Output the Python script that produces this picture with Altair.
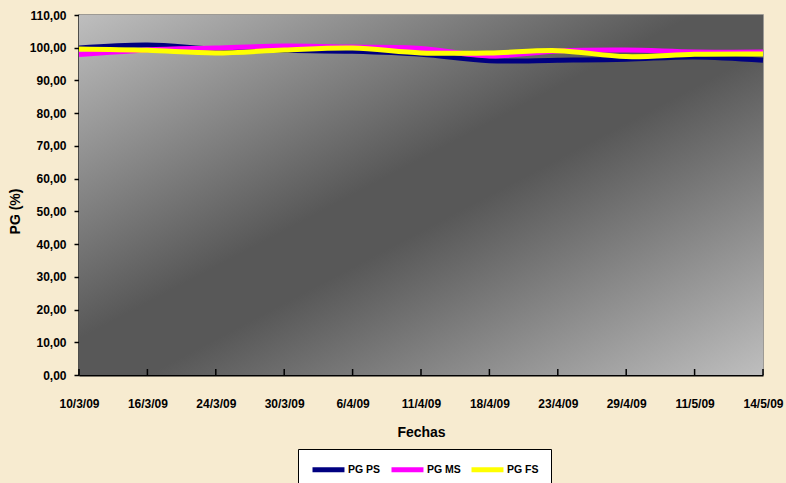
import altair as alt
import pandas as pd

# Sampling dates and germination percentages per treatment
dates = ["10/3/09", "16/3/09", "24/3/09", "30/3/09", "6/4/09", "11/4/09",
         "18/4/09", "23/4/09", "29/4/09", "11/5/09", "14/5/09"]
pg_ps = [99.9, 100.8, 99.6, 99.2, 98.9, 98.0, 96.0, 96.2, 96.5, 97.2, 96.2]
pg_ms = [97.9, 99.3, 99.9, 100.5, 100.2, 99.8, 97.5, 99.0, 99.3, 98.7, 98.7]
pg_fs = [99.6, 99.2, 98.4, 99.3, 99.9, 98.4, 98.4, 99.1, 97.3, 98.0, 98.1]

series_names = ["PG PS", "PG MS", "PG FS"]
series_colors = ["#000080", "#ff00ff", "#ffff00"]

rows = []
for name, vals in zip(series_names, [pg_ps, pg_ms, pg_fs]):
    for d, v in zip(dates, vals):
        rows.append({"Fecha": d, "Serie": name, "PG": v})
df = pd.DataFrame(rows)
ticks_df = pd.DataFrame({"Fecha": dates})

W, H = 684, 360
FONT = "Liberation Sans"

x_enc = alt.X(
    "Fecha:N", sort=dates,
    scale=alt.Scale(type="point", padding=0),
    axis=alt.Axis(
        title="Fechas", labelAngle=0, ticks=False, grid=False,
        labelFont=FONT, labelFontSize=12, labelFontWeight="bold",
        labelColor="black", labelPadding=28, labelBaseline="middle",
        titleFont=FONT, titleFontSize=14, titleFontWeight="bold",
        titleColor="black", titleY=57, titleBaseline="middle",
        domainColor="black", domainWidth=2,
    ),
)

background = alt.Chart(pd.DataFrame({"a": [0]})).mark_rect(
    color=alt.Gradient(
        gradient="linear", x1=0, y1=0, x2=1, y2=1,
        stops=[
            alt.GradientStop(offset=0, color="#bebebe"),
            alt.GradientStop(offset=0.45, color="#585858"),
            alt.GradientStop(offset=0.55, color="#585858"),
            alt.GradientStop(offset=1, color="#bebebe"),
        ],
    )
).encode(x=alt.value(0), x2=alt.value(W), y=alt.value(0), y2=alt.value(H))

lines = alt.Chart(df).mark_line(interpolate="cardinal").encode(
    x=x_enc,
    y=alt.Y(
        "PG:Q",
        scale=alt.Scale(domain=[0, 110]),
        axis=alt.Axis(
            title="PG (%)", values=list(range(0, 111, 10)), grid=False,
            labelExpr="replace(format(datum.value, '.2f'), '.', ',')",
            labelFont=FONT, labelFontSize=12, labelFontWeight="bold",
            labelColor="black", labelPadding=8,
            tickColor="black", tickSize=5, tickWidth=1.5,
            titleFont=FONT, titleFontSize=14, titleFontWeight="bold",
            titleColor="black", titleX=-64, titleY=196, titleAngle=270,
            titleAlign="center", titleBaseline="middle",
            domainColor="black", domainWidth=2,
        ),
    ),
    color=alt.Color(
        "Serie:N", sort=series_names, title=None,
        scale=alt.Scale(domain=series_names, range=series_colors),
        legend=alt.Legend(
            orient="none", legendX=219, legendY=434, direction="horizontal",
            padding=12, strokeColor="black", fillColor="white",
            # long line starting at the symbol's left edge
            symbolType="M-1,0H4.33", symbolSize=144, symbolStrokeWidth=4,
            labelFont=FONT, labelFontSize=10.5, labelFontWeight="bold",
            labelColor="black", labelOffset=21, columnPadding=0,
        ),
    ),
    strokeWidth=alt.StrokeWidth(
        "Serie:N", legend=None,
        scale=alt.Scale(domain=series_names, range=[5, 5, 6]),
    ),
)

inner_ticks = alt.Chart(ticks_df).mark_rule(color="black", strokeWidth=1.5).encode(
    x=alt.X("Fecha:N", sort=dates),
    y=alt.value(H - 6), y2=alt.value(H),
)

chart = alt.layer(background, lines, inner_ticks).properties(
    width=W, height=H,
    autosize=alt.AutoSizeParams(type="none"),
    padding={"left": 79, "top": 15, "right": 23, "bottom": 108},
    background="#f7ebd0",
).configure_view(stroke="#808080", strokeWidth=1.5)

chart.save("out.html", embed_options={"renderer": "svg", "actions": False})
